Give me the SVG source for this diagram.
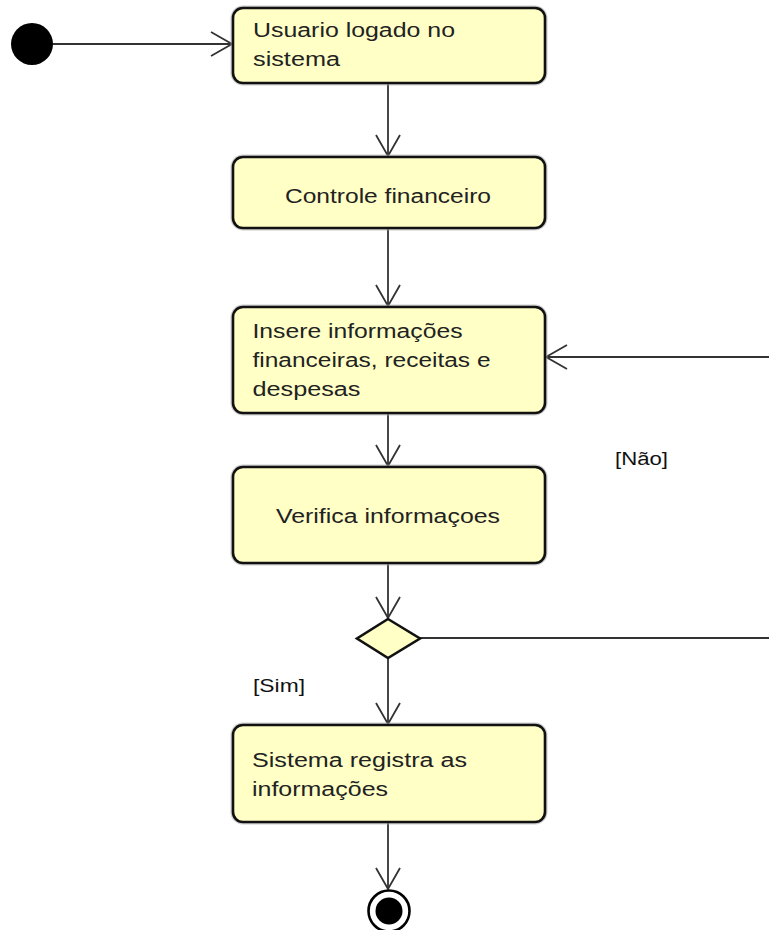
<svg xmlns="http://www.w3.org/2000/svg" width="769" height="930" viewBox="0 0 769 930">
<style>
.box{fill:#FFFFC6;stroke:#111;stroke-width:2.6}
.halo{fill:none;stroke:#aaa;stroke-width:5;opacity:0.6}
.t{font-family:"Liberation Sans",Arial,sans-serif;font-size:20px;fill:#222}
.lbl{font-family:"Liberation Sans",Arial,sans-serif;font-size:18px;fill:#111}
.edge{stroke:#333;stroke-width:1.8;fill:none}
</style>
<defs>
<marker id="open" markerUnits="userSpaceOnUse" markerWidth="30" markerHeight="30" viewBox="-24 -15 28 30" refX="0" refY="0" orient="auto" overflow="visible">
<path d="M-21,-12 L0,0 L-21,12" fill="none" stroke="#333" stroke-width="1.8"/>
</marker>
</defs>
<rect width="769" height="930" fill="#fff"/>
<g id="connectors">
<line class="edge" x1="53" y1="44" x2="232" y2="44" marker-end="url(#open)"/>
<line class="edge" x1="388" y1="83" x2="388" y2="156" marker-end="url(#open)"/>
<line class="edge" x1="388" y1="228" x2="388" y2="306" marker-end="url(#open)"/>
<line class="edge" x1="388" y1="413" x2="388" y2="466" marker-end="url(#open)"/>
<line class="edge" x1="388" y1="563" x2="388" y2="618" marker-end="url(#open)"/>
<line class="edge" x1="388" y1="658" x2="388" y2="724" marker-end="url(#open)"/>
<line class="edge" x1="388" y1="822" x2="388" y2="889" marker-end="url(#open)"/>
<line class="edge" x1="420" y1="638" x2="775" y2="638"/>
<line class="edge" x1="775" y1="357" x2="546" y2="357" marker-end="url(#open)"/>
<text class="lbl" x="615" y="465" textLength="53" lengthAdjust="spacingAndGlyphs">[Não]</text>
<text class="lbl" x="253" y="692" textLength="52" lengthAdjust="spacingAndGlyphs">[Sim]</text>
</g>
<g id="start">
<circle cx="32" cy="44" r="21" fill="#000"/>
</g>
<g id="n1">
<rect class="halo" x="233" y="8" width="312" height="75" rx="10"/>
<rect class="box" x="233" y="8" width="312" height="75" rx="10"/>
<text class="t" x="253" y="37" textLength="202" lengthAdjust="spacingAndGlyphs">Usuario logado no</text>
<text class="t" x="253" y="66" textLength="87" lengthAdjust="spacingAndGlyphs">sistema</text>
</g>
<g id="n2">
<rect class="halo" x="233" y="157" width="312" height="71" rx="10"/>
<rect class="box" x="233" y="157" width="312" height="71" rx="10"/>
<text class="t" x="285" y="203" textLength="206" lengthAdjust="spacingAndGlyphs">Controle financeiro</text>
</g>
<g id="n3">
<rect class="halo" x="233" y="307" width="312" height="106" rx="10"/>
<rect class="box" x="233" y="307" width="312" height="106" rx="10"/>
<text class="t" x="252.5" y="338" textLength="210" lengthAdjust="spacingAndGlyphs">Insere informações</text>
<text class="t" x="252.5" y="367" textLength="238" lengthAdjust="spacingAndGlyphs">financeiras, receitas e</text>
<text class="t" x="252.5" y="396" textLength="108" lengthAdjust="spacingAndGlyphs">despesas</text>
</g>
<g id="n4">
<rect class="halo" x="233" y="467" width="312" height="96" rx="10"/>
<rect class="box" x="233" y="467" width="312" height="96" rx="10"/>
<text class="t" x="276" y="523" textLength="224" lengthAdjust="spacingAndGlyphs">Verifica informaçoes</text>
</g>
<g id="decision">
<polygon points="388,619 420,638.5 388,658 357,638.5" fill="#FFFFC6" stroke="#111" stroke-width="2.6" stroke-linejoin="miter"/>
</g>
<g id="n5">
<rect class="halo" x="233" y="725" width="312" height="97" rx="10"/>
<rect class="box" x="233" y="725" width="312" height="97" rx="10"/>
<text class="t" x="252" y="767" textLength="215" lengthAdjust="spacingAndGlyphs">Sistema registra as</text>
<text class="t" x="252" y="796" textLength="136" lengthAdjust="spacingAndGlyphs">informações</text>
</g>
<g id="end">
<circle cx="389" cy="911" r="20.5" fill="#fff" stroke="#000" stroke-width="2.6"/>
<circle cx="389" cy="911" r="13.5" fill="#000"/>
</g>
</svg>
